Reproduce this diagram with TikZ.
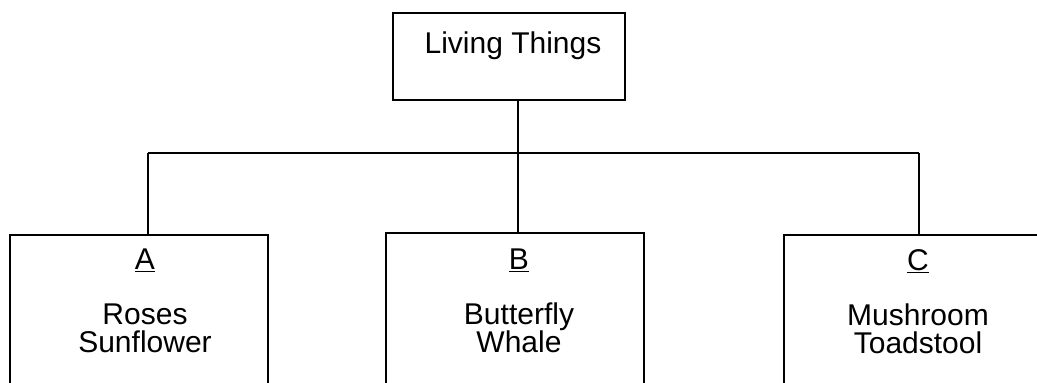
\documentclass[tikz,border=0pt]{standalone}
\usepackage{fontspec}
\setmainfont{Liberation Sans}
\usepackage{tikz}
\tikzstyle{box}=[draw, line width=1.4pt, inner sep=0pt]
\tikzstyle{topbox}=[box, minimum width=232pt, minimum height=87pt]
\tikzstyle{groupbox}=[box, minimum width=258pt, minimum height=200pt]
\tikzstyle{txt}=[inner sep=0pt, font=\fontsize{30}{28}\selectfont, align=center]
\tikzstyle{link}=[line width=1.4pt]

\begin{document}
\begin{tikzpicture}[x=1pt, y=-1pt]
        \useasboundingbox (0,0) rectangle (1037,383);
        \clip (0,0) rectangle (1037,383);
        \node[topbox] (L) at (509, 56.5) {};
        \node[txt, anchor=base] (Ltext) at (513, 53) {Living Things};
        \node[groupbox] (A) at (139, 335) {};
        \node[groupbox] (B) at (515, 333) {};
        \node[groupbox] (C) at (913, 335) {};
        \node[txt, anchor=north] (Atext) at (145, 249) {\underline{A}\\[27pt]Roses\\Sunflower};
        \node[txt, anchor=north] (Btext) at (519, 249) {\underline{B}\\[27pt]Butterfly\\Whale};
        \node[txt, anchor=north] (Ctext) at (918, 249) {\underline{C}\\[27pt]Mushroom\\Toadstool};
        \coordinate (hub) at (518, 153);
        \coordinate (left) at (148, 153);
        \coordinate (right) at (919, 153);
        \draw[link] (hub |- L.south) -- (hub |- B.north);
        \draw[link] (left) -- (right);
        \draw[link] (left) -- (left |- A.north);
        \draw[link] (right) -- (right |- C.north);
\end{tikzpicture}
\end{document}
